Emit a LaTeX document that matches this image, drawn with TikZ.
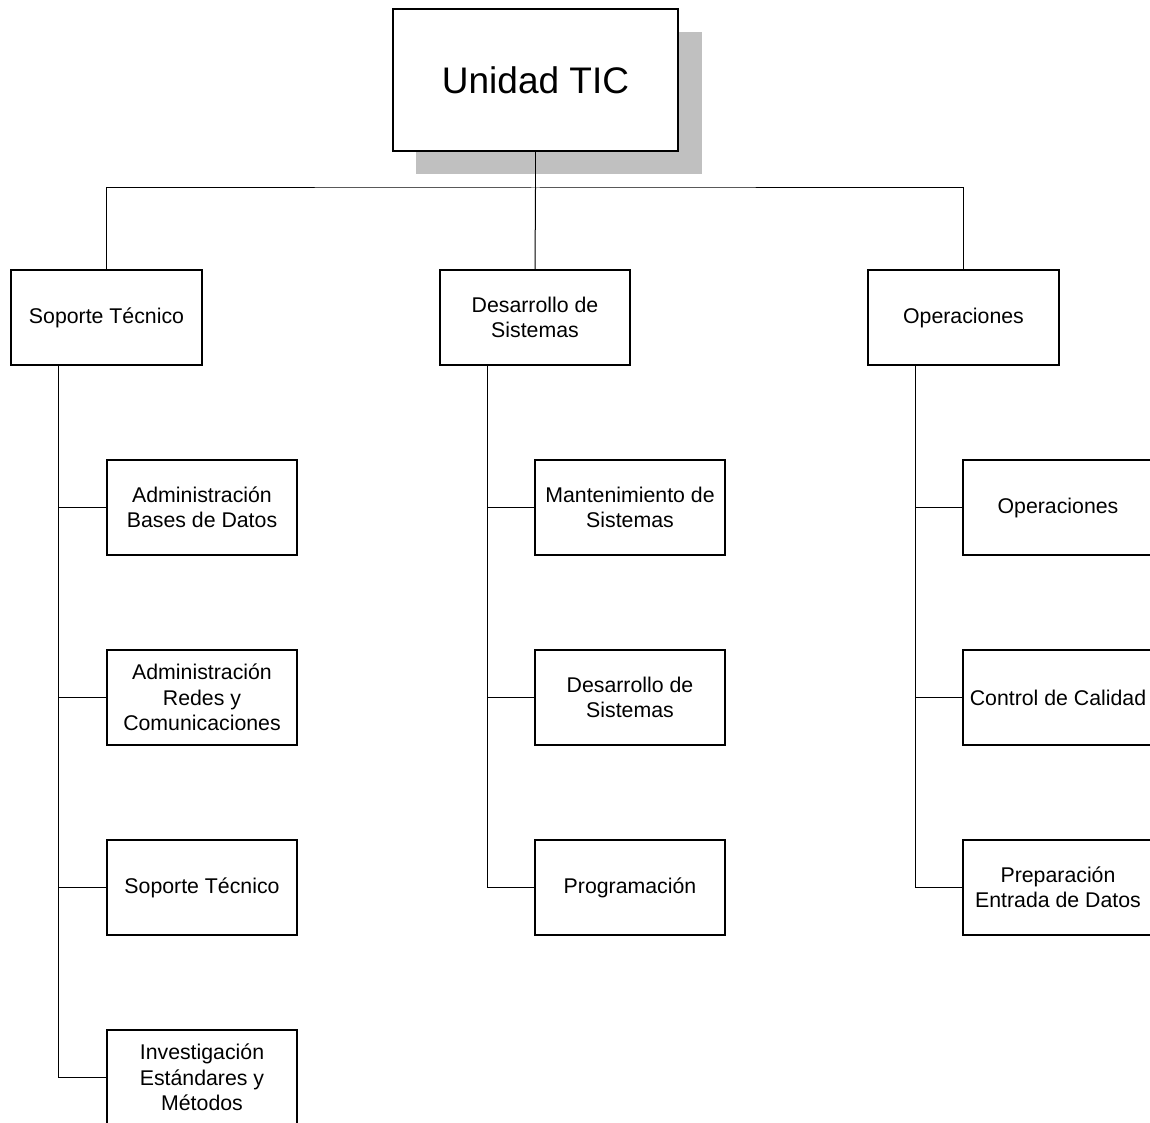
\documentclass[tikz,border=0pt]{standalone}
\usepackage{fontspec}
\setmainfont{Liberation Sans}
\usetikzlibrary{calc}
\definecolor{shadowgray}{RGB}{192,192,192}
\tikzset{
  unit/.style={draw=black, line width=1.6pt, fill=white, align=center,
    minimum width=190pt, minimum height=95pt, inner sep=2pt,
    font=\fontsize{21.3pt}{25.5pt}\selectfont},
  link/.style={draw=black, line width=1pt},
}
\begin{document}
\begin{tikzpicture}[x=1pt, y=-1pt]
  \useasboundingbox (0,0) rectangle (1150,1123);

  % head unit with its drop shadow
  \fill[shadowgray] (416,32) rectangle (702,174);
  \node[unit, minimum width=285pt, minimum height=142pt,
        font=\fontsize{37pt}{44pt}\selectfont] (tic) at (535.5,80) {Unidad TIC};

  % departments
  \node[unit, minimum width=191pt] (sop) at (106.5,317.5) {Soporte Técnico};
  \node[unit] (des) at (535,317.5) {Desarrollo de\\Sistemas};
  \node[unit, minimum width=191pt] (ope) at (963.5,317.5) {Operaciones};

  % sections of Soporte Técnico
  \node[unit] (s1) at (202,507.5) {Administración\\Bases de Datos};
  \node[unit] (s2) at (202,697.5) {Administración\\Redes y\\Comunicaciones};
  \node[unit] (s3) at (202,887.5) {Soporte Técnico};
  \node[unit] (s4) at (202,1077.5) {Investigación\\Estándares y\\Métodos};

  % sections of Desarrollo de Sistemas
  \node[unit] (d1) at (630,507.5) {Mantenimiento de\\Sistemas};
  \node[unit] (d2) at (630,697.5) {Desarrollo de\\Sistemas};
  \node[unit] (d3) at (630,887.5) {Programación};

  % sections of Operaciones
  \node[unit] (o1) at (1058,507.5) {Operaciones};
  \node[unit] (o2) at (1058,697.5) {Control de Calidad};
  \node[unit] (o3) at (1058,887.5) {Preparación\\Entrada de Datos};

  % head unit to departments
  \coordinate (bus) at (535.5,188);
  \draw[link] (tic.south) -- (bus);
  \draw[link] (sop.north) |- (bus) -| (ope.north);
  \draw[link] (bus) -- (des.north);

  % department trunks to their sections
  \coordinate (sopT) at ($(sop.south west)!0.25!(sop.south east)$);
  \coordinate (desT) at ($(des.south west)!0.25!(des.south east)$);
  \coordinate (opeT) at ($(ope.south west)!0.25!(ope.south east)$);
  \foreach \s in {s1,s2,s3,s4} \draw[link] (sopT) |- (\s.west);
  \foreach \s in {d1,d2,d3} \draw[link] (desT) |- (\s.west);
  \foreach \s in {o1,o2,o3} \draw[link] (opeT) |- (\s.west);
\end{tikzpicture}
\end{document}
